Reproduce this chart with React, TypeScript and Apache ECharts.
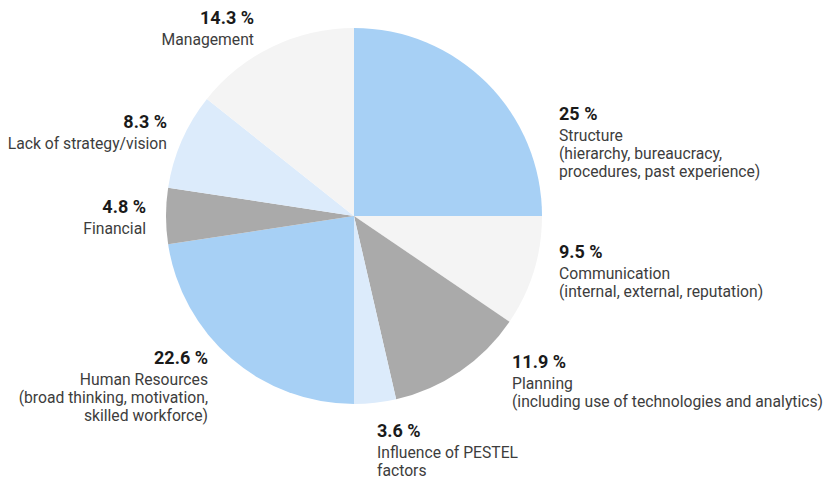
import React, { useEffect, useRef } from "react";
import * as echarts from "echarts";

const categories = [
  "Structure\n(hierarchy, bureaucracy,\nprocedures, past experience)",
  "Communication\n(internal, external, reputation)",
  "Planning\n(including use of technologies and analytics)",
  "Influence of PESTEL\nfactors",
  "Human Resources\n(broad thinking, motivation,\nskilled workforce)",
  "Financial",
  "Lack of strategy/vision",
  "Management",
];
const values = [25, 9.5, 11.9, 3.6, 22.6, 4.8, 8.3, 14.3];
const percentLabels = ["25 %", "9.5 %", "11.9 %", "3.6 %", "22.6 %", "4.8 %", "8.3 %", "14.3 %"];
const colors = ["#a7d0f5", "#f4f4f4", "#aaaaaa", "#dcebfb", "#a7d0f5", "#aaaaaa", "#dcebfb", "#f4f4f4"];

// label anchor positions (label layout, not marks)
const labelAnchors = [
  { x: 559, y: 100, align: "left" },
  { x: 559, y: 238, align: "left" },
  { x: 512, y: 348, align: "left" },
  { x: 377, y: 417, align: "left" },
  { x: 208, y: 344, align: "right" },
  { x: 146, y: 193, align: "right" },
  { x: 167, y: 108, align: "right" },
  { x: 254, y: 4, align: "right" },
];

export default function App() {
  const ref = useRef<HTMLDivElement>(null);
  useEffect(() => {
    document.body.style.margin = "0";
    const chart = echarts.init(ref.current!, null, { renderer: "svg" });
    chart.setOption({
      animation: false,
      backgroundColor: "#ffffff",
      series: [
        {
          type: "pie",
          center: [354, 216],
          radius: 188,
          startAngle: 90,
          clockwise: true,
          avoidLabelOverlap: false,
          data: values.map((v, i) => ({
            value: v,
            name: categories[i],
            itemStyle: { color: colors[i] },
            label: { align: labelAnchors[i].align },
          })),
          label: {
            show: true,
            position: "outside",
            fontFamily: "Roboto",
            formatter: (p: any) => `{pct|${percentLabels[p.dataIndex]}}\n{name|${p.name.split("\n").join("}\n{name|")}}`,
            rich: {
              pct: { fontFamily: "Roboto", fontSize: 18, fontWeight: "bold", color: "#1a1a1a", lineHeight: 26 },
              name: { fontFamily: "Roboto", fontSize: 15.7, color: "#3d3d3d", lineHeight: 18.3 },
            },
          },
          labelLine: { show: false },
          labelLayout: (params: any) => {
            const a = labelAnchors[params.dataIndex];
            return { x: a.x, y: a.y, align: a.align, verticalAlign: "top" };
          },
          emphasis: { disabled: true },
        },
      ],
    });
    return () => chart.dispose();
  }, []);
  return <div ref={ref} style={{ width: 827, height: 480 }} />;
}
